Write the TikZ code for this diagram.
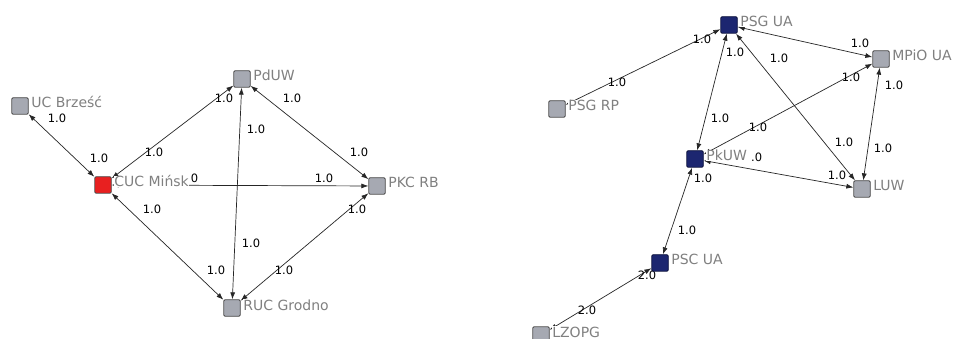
\documentclass[tikz,border=0pt]{standalone}
\usepackage{fontspec}
\setmainfont{DejaVu Sans}
\usetikzlibrary{arrows.meta}
\definecolor{sqgray}{RGB}{166,169,178}
\definecolor{sqred}{RGB}{232,32,32}
\definecolor{sqblue}{RGB}{28,38,112}
\definecolor{sqbluedark}{RGB}{12,18,60}
\definecolor{lblgray}{RGB}{128,128,128}
\pgfdeclarelayer{bg}
\pgfsetlayers{bg,main}
\tikzset{
  sq/.style={draw=black!70, line width=0.8pt, rounded corners=1.2pt, minimum size=16.5pt, inner sep=0pt, fill=sqgray},
  redsq/.style={sq, fill=sqred},
  bluesq/.style={sq, fill=sqblue, draw=sqbluedark},
  lbl/.style={anchor=base west, text=lblgray, font=\fontsize{14}{16}\selectfont, fill=white, inner sep=0.5pt, text height=10.3pt, text depth=0pt},
  wt/.style={font=\fontsize{11.5}{13}\selectfont, inner sep=0pt, text=black},
  link/.style={draw=black!85, line width=0.7pt, {Latex[length=7pt,width=5pt]}-{Latex[length=7pt,width=5pt]}}
}
\begin{document}
\begin{tikzpicture}[x=1pt,y=-1pt]
\useasboundingbox (0,0) rectangle (959,339);
% squares
\node[sq]    (brz)   at (20,106)  {};
\node[redsq] (min)   at (103,185) {};
\node[sq]    (pduw)  at (242,79)  {};
\node[sq]    (pkc)   at (377,186) {};
\node[sq]    (gro)   at (232,308) {};
\node[sq]    (psgrp) at (557,109) {};
\node[bluesq] (psgua) at (729,25) {};
\node[sq]    (mpio)  at (881,59)  {};
\node[sq]    (luw)   at (862,189) {};
\node[bluesq] (pkuw) at (695,159) {};
\node[bluesq] (psc)  at (660,263) {};
\node[sq]    (lzopg) at (541,335) {};
% connectors and their weights
\begin{pgfonlayer}{bg}
\fill[white] (0,0) rectangle (959,339);
\foreach \a/\b in {brz/min, min/pduw, min/pkc, min/gro, pduw/gro, pduw/pkc, gro/pkc,
  psgrp/psgua, psgua/pkuw, psgua/mpio, psgua/luw, pkuw/mpio, pkuw/luw, mpio/luw, pkuw/psc, lzopg/psc}
  \draw[link] (\a) -- (\b);
\foreach \x/\y/\t [count=\i] in {57/118/1.0, 99/158/1.0, 154/152/1.0, 224/98/1.0, 292/98/1.0,
  359/152/1.0, 256/129/1.0, 251/243/1.0, 324/178/1.0, 152/209/1.0, 216/270/1.0,
  284/270/1.0, 357/209/1.0,
  617/82/1.0, 702/39/1.0, 735/52/1.0, 720/118/1.0, 860/43/1.0, 779/58/1.0, 851/77/1.0,
  758/127/1.0, 894/85/1.0, 883/148/1.0, 844/142/1.0, 837/175/1.0, 703/178/1.0,
  687/230/1.0, 647/275/2.0, 587/310/2.0}
  \node[wt] (w\i) at (\x,\y) {\t};
% weights mostly hidden behind node labels
\node[wt, anchor=west] (wmin) at (194.5,178) {\hspace*{-3.8pt}0};
\node[wt, anchor=west] (wpkuw) at (751,157) {.0};
\end{pgfonlayer}
% node labels
\node[lbl] (lbrz)   at ([xshift=2pt,yshift=-2pt]brz.east)   {UC Brześć};
\node[lbl] (lmin)   at ([xshift=2pt,yshift=-2pt]min.east)   {CUC Mińsk};
\node[lbl] (lpduw)  at ([xshift=2pt,yshift=-2pt]pduw.east)  {PdUW};
\node[lbl] (lpkc)   at ([xshift=2pt,yshift=-2pt]pkc.east)   {PKC RB};
\node[lbl] (lgro)   at ([xshift=2pt,yshift=-2pt]gro.east)   {RUC Grodno};
\node[lbl] (lpsgrp) at ([xshift=2pt,yshift=-2pt]psgrp.east) {PSG RP};
\node[lbl] (lpsgua) at ([xshift=2pt,yshift=-2pt]psgua.east) {PSG UA};
\node[lbl] (lmpio)  at ([xshift=2pt,yshift=-2pt]mpio.east)  {MPiO UA};
\node[lbl] (lluw)   at ([xshift=2pt,yshift=-2pt]luw.east)   {LUW};
\node[lbl] (lpkuw)  at ([xshift=2pt,yshift=-2pt]pkuw.east)  {PkUW};
\node[lbl] (lpsc)   at ([xshift=2pt,yshift=-2pt]psc.east)   {PSC UA};
\node[lbl] (llzopg) at ([xshift=2pt,yshift=-2pt]lzopg.east) {LZOPG};
\end{tikzpicture}
\end{document}
